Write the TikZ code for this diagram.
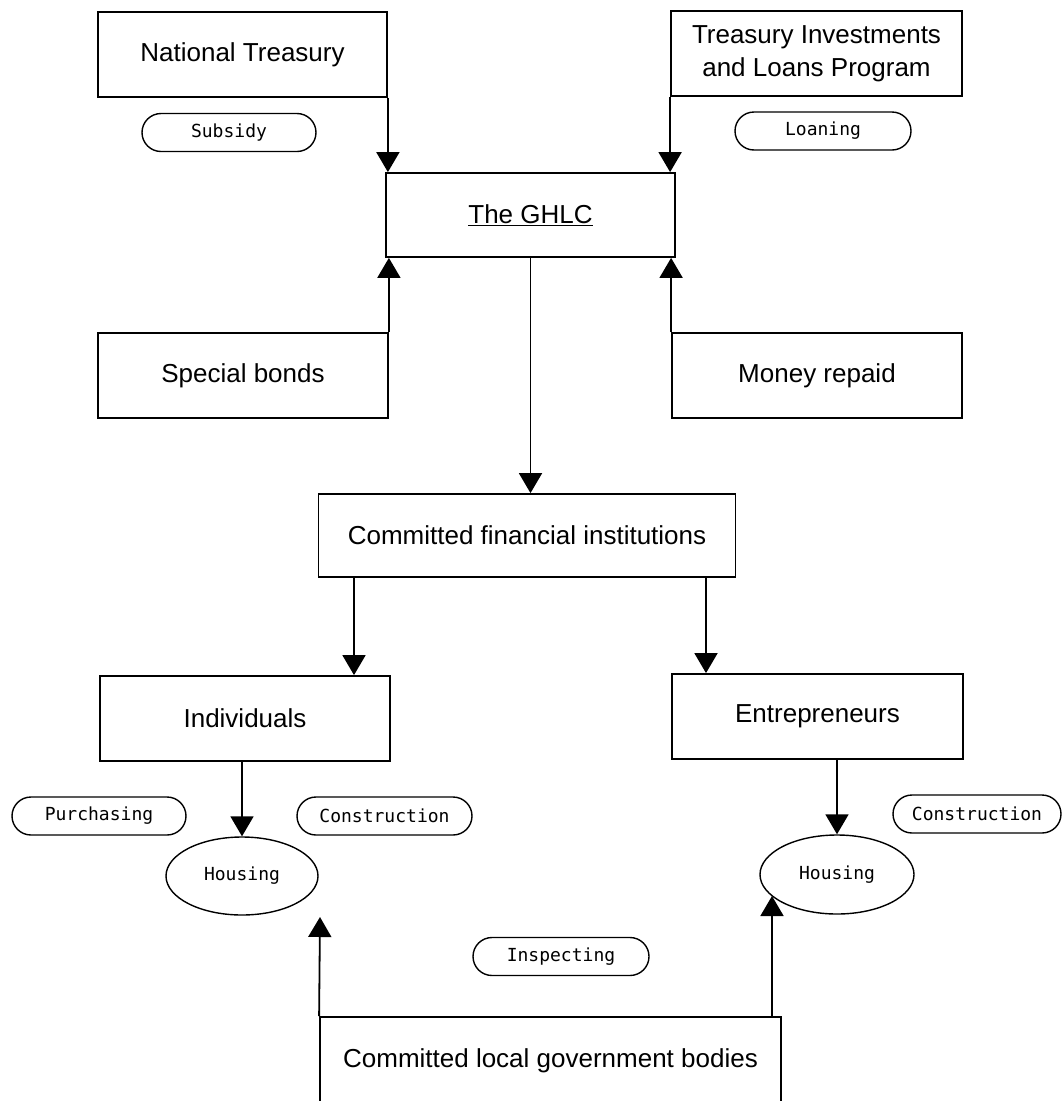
\documentclass[tikz,border=0pt]{standalone}
\usepackage{fontspec}
\setmainfont{Liberation Sans}
\newfontfamily\monofnt{DejaVu Sans Mono}
\usetikzlibrary{arrows.meta,shapes.geometric}
\tikzset{
  boxnode/.style={draw, line width=1.8pt, rectangle, inner sep=0pt, align=center,
    font=\fontsize{26}{33}\selectfont},
  pill/.style={draw, line width=1.4pt, rectangle, rounded corners=19pt, inner sep=0pt,
    minimum height=38pt, minimum width=174pt, font=\monofnt\fontsize{18}{22}\selectfont},
  ell/.style={draw, line width=1.4pt, ellipse, inner sep=0pt,
    font=\monofnt\fontsize{18}{22}\selectfont},
  arr/.style={line width=1.8pt, -{Triangle[width=23pt,length=20pt]}},
}
\begin{document}
\begin{tikzpicture}[x=1pt,y=-1pt]
\useasboundingbox (0,0) rectangle (1063,1101);
\clip (0,0) rectangle (1063,1101);
% boxes
\node[boxnode, minimum width=289pt, minimum height=85pt] (NT) at (242.5,54.5) {National Treasury};
\node[boxnode, minimum width=291pt, minimum height=85pt] (TILP) at (816.5,53.5) {Treasury Investments\\and Loans Program};
\node[boxnode, minimum width=289pt, minimum height=84pt] (GHLC) at (530.5,215) {\underline{The GHLC}};
\node[boxnode, minimum width=290pt, minimum height=85pt] (SB) at (243,375.5) {Special bonds};
\node[boxnode, minimum width=290pt, minimum height=85pt] (MR) at (817,375.5) {Money repaid};
\node[boxnode, minimum width=417pt, minimum height=83pt] (CFI) at (527,535.5) {Committed financial institutions};
\node[boxnode, minimum width=290pt, minimum height=85pt] (IND) at (245,718.5) {Individuals};
\node[boxnode, minimum width=291pt, minimum height=85pt] (ENT) at (817.5,716.5) {Entrepreneurs};
\node[boxnode, minimum width=461pt, minimum height=88pt] (CLGB) at (550.5,1061) {Committed local government bodies};
% pills
\node[pill] (SUB) at (229,132.5) {Subsidy};
\node[pill, minimum width=176pt] (LOAN) at (823,131) {Loaning};
\node[pill] (PUR) at (99,816) {Purchasing};
\node[pill, minimum width=175pt] (CONL) at (384.5,816) {Construction};
\node[pill, minimum width=168pt] (CONR) at (977,814) {Construction};
\node[pill, minimum width=176pt] (INSP) at (561,956.5) {Inspecting};
% ellipses
\node[ell, minimum width=152pt, minimum height=78pt] (HL) at (242,876) {Housing};
\node[ell, minimum width=154pt, minimum height=79pt] (HR) at (837,874.5) {Housing};
% connectors
\draw[arr] (NT.south east) -- (NT.south east |- GHLC.north);
\draw[arr] (TILP.south west) -- (TILP.south west |- GHLC.north);
\draw[arr] (SB.north east) -- (SB.north east |- GHLC.south);
\draw[arr] (MR.north west) -- (MR.north west |- GHLC.south);
\draw[arr] (GHLC.south) -- (GHLC.south |- CFI.north);
\draw[arr] (354,0 |- CFI.south) -- (354,0 |- IND.north);
\draw[arr] (706,0 |- CFI.south) -- (706,0 |- ENT.north);
\draw[arr] (HL.north |- IND.south) -- (HL.north);
\draw[arr] (HR.north |- ENT.south) -- (HR.north);
\coordinate (tipL) at (320,917);
\coordinate (tipR) at (772,896);
\draw[arr] (CLGB.north west) -- (tipL);
\draw[arr] (tipR |- CLGB.north) -- (tipR);
\end{tikzpicture}
\end{document}
